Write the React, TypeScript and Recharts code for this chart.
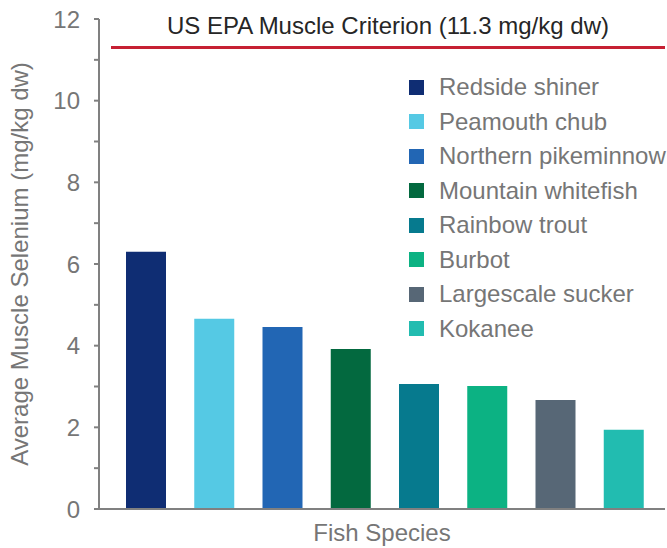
import { BarChart, Bar, XAxis, YAxis, Cell, Legend, ReferenceLine } from 'recharts'

const species = [
  'Redside shiner',
  'Peamouth chub',
  'Northern pikeminnow',
  'Mountain whitefish',
  'Rainbow trout',
  'Burbot',
  'Largescale sucker',
  'Kokanee',
]
const selenium = [6.3, 4.66, 4.46, 3.92, 3.06, 3.01, 2.67, 1.94]
const colors = ['#0f2d73', '#55c9e4', '#2266b4', '#03693f', '#067a8e', '#0cb283', '#576776', '#22bcb0']
const yTicks = [0, 1, 2, 3, 4, 5, 6, 7, 8, 9, 10, 11, 12]
const criterion = 11.3
const criterionLabel = 'US EPA Muscle Criterion (11.3 mg/kg dw)'

const data = species.map((name, i) => ({ name, value: selenium[i] }))

const FONT = '"Liberation Sans", Arial, sans-serif'
const GRAY = '#767676'
const AXIS = '#808080'

/* eslint-disable @typescript-eslint/no-explicit-any */
function CriterionShape(props: any) {
  const { x1, y1, x2 } = props
  const startX = x1 + 12
  return (
    <g>
      <line x1={startX} y1={y1} x2={x2} y2={y1} stroke="#c62033" strokeWidth={3} />
      <text x={(startX + x2) / 2} y={y1 - 14} textAnchor="middle" fontSize={24} fontFamily={FONT} fill="#262626">
        {criterionLabel}
      </text>
    </g>
  )
}

function YLabel(props: any) {
  const vb = props.viewBox
  const cx = vb.x + 28
  const cy = vb.y + vb.height / 2
  return (
    <text x={cx} y={cy} transform={`rotate(-90, ${cx}, ${cy})`} textAnchor="middle" fontSize={24} fontFamily={FONT} fill={GRAY}>
      Average Muscle Selenium (mg/kg dw)
    </text>
  )
}

function SpeciesLegend() {
  return (
    <div style={{ fontFamily: FONT }}>
      {species.map((name, i) => (
        <div key={name} style={{ display: 'flex', alignItems: 'center', height: 34.5 }}>
          <span style={{ width: 15, height: 15, background: colors[i], display: 'inline-block', marginRight: 15 }} />
          <span style={{ fontSize: 24, color: GRAY, whiteSpace: 'nowrap' }}>{name}</span>
        </div>
      ))}
    </div>
  )
}
/* eslint-enable @typescript-eslint/no-explicit-any */

export default function App() {
  return (
    <div style={{ position: 'absolute', left: 0, top: 0, width: 667, height: 548, background: '#fff' }}>
      <BarChart width={667} height={548} data={data} margin={{ top: 19, right: 2, left: 0, bottom: 0 }}>
        <XAxis
          dataKey="name"
          tick={false}
          tickLine={false}
          axisLine={{ stroke: AXIS, strokeWidth: 2 }}
          padding={{ left: 13, right: 7 }}
          height={39}
          label={{ value: 'Fish Species', position: 'insideBottom', offset: 7, fontSize: 24, fontFamily: FONT, fill: GRAY }}
        />
        <YAxis
          width={99}
          domain={[0, 12]}
          ticks={yTicks}
          interval={0}
          tickFormatter={(v: number) => (v % 2 === 0 ? String(v) : '')}
          tickSize={5}
          tickMargin={14}
          tick={{ fontSize: 24, fontFamily: FONT, fill: GRAY }}
          tickLine={{ stroke: AXIS, strokeWidth: 2 }}
          axisLine={{ stroke: AXIS, strokeWidth: 2 }}
          label={{ content: YLabel }}
        />
        <Legend
          layout="vertical"
          verticalAlign="middle"
          align="center"
          content={() => <SpeciesLegend />}
          wrapperStyle={{ left: 409, top: 70, width: 260 }}
        />
        <ReferenceLine y={criterion} shape={CriterionShape} isFront />
        <Bar dataKey="value" barSize={40} isAnimationActive={false}>
          {data.map((d, i) => (
            <Cell key={d.name} fill={colors[i]} />
          ))}
        </Bar>
      </BarChart>
    </div>
  )
}
